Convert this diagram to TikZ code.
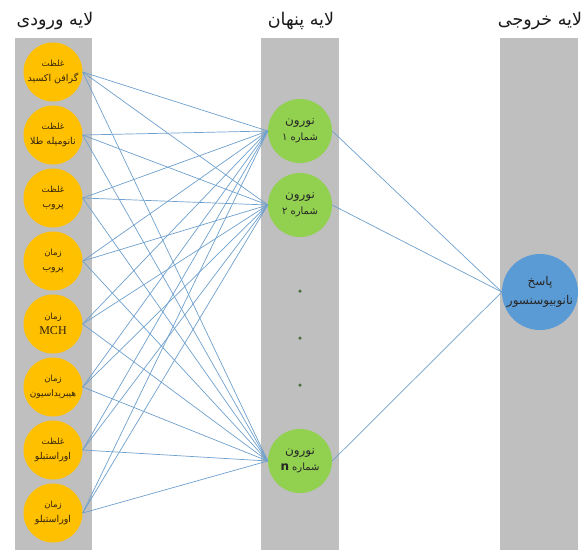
\documentclass[tikz,border=0pt]{standalone}
\usepackage{fontspec}
\setmainfont{Liberation Serif}
\newfontfamily\arabicfont[Script=Arabic]{DejaVu Sans}
\TeXXeTstate=1
\newcommand{\fa}[1]{{\arabicfont\beginR #1\endR}}
\newcommand{\fs}[2]{{\fontsize{#1}{#1}\selectfont #2}}
\definecolor{colgray}{RGB}{191,191,191}
\definecolor{inyellow}{RGB}{255,192,0}
\definecolor{hidgreen}{RGB}{146,208,80}
\definecolor{outblue}{RGB}{91,155,213}
\definecolor{linkblue}{RGB}{110,160,205}
\definecolor{dotcol}{RGB}{75,110,65}
\definecolor{txtdark}{RGB}{50,35,10}
\tikzset{
  column/.style={fill=colgray, draw=none},
  innode/.style={circle, fill=inyellow, draw=none, minimum size=59pt, inner sep=0pt, align=center, text=txtdark, font=\fontsize{9.5}{15}\selectfont},
  hidnode/.style={circle, fill=hidgreen, draw=none, minimum size=64pt, inner sep=0pt, align=center, text=black!85, font=\fontsize{12}{16}\selectfont},
  outnode/.style={circle, fill=outblue, draw=none, minimum size=76pt, inner sep=0pt, align=center, text=black!85, font=\fontsize{12}{19}\selectfont},
  title/.style={font=\fontsize{17.5}{20}\selectfont, text=black!90},
  link/.style={draw=linkblue, line width=0.7pt},
  dotnode/.style={circle, fill=dotcol, draw=none, minimum size=3.5pt, inner sep=0pt}
}
\begin{document}
\begin{tikzpicture}[x=1pt,y=-1pt]
\useasboundingbox (0,0) rectangle (587,550);
% columns
\fill[column] (15,38) rectangle (92,550);
\fill[column] (261,38) rectangle (339,550);
\fill[column] (500,38) rectangle (578,550);
% titles
\node[title] (t1) at (55,21) {\fa{لایه ورودی}};
\node[title] (t2) at (301,21) {\fa{لایه پنهان}};
\node[title] (t3) at (540,21) {\fa{لایه خروجی}};
% input nodes
\node[innode] (i1) at (53,72)  {\fs{8.5}{\fa{غلظت}}\\\fa{گرافن اکسید}};
\node[innode] (i2) at (53,135) {\fs{8.5}{\fa{غلظت}}\\\fa{نانومیله طلا}};
\node[innode] (i3) at (53,198) {\fs{8.5}{\fa{غلظت}}\\\fa{پروب}};
\node[innode] (i4) at (53,261) {\fs{8.5}{\fa{زمان}}\\\fa{پروب}};
\node[innode] (i5) at (53,324) {\fs{8.5}{\fa{زمان}}\\\fs{12}{MCH}};
\node[innode] (i6) at (53,387) {\fs{8.5}{\fa{زمان}}\\\fs{9}{\fa{هیبریداسیون}}};
\node[innode] (i7) at (53,450) {\fs{8.5}{\fa{غلظت}}\\\fa{اوراستبلو}};
\node[innode] (i8) at (53,513) {\fs{8.5}{\fa{زمان}}\\\fa{اوراستبلو}};
% hidden nodes
\node[hidnode] (h1) at (300,131) {\fa{نورون}\\\fs{10}{\fa{شماره ۱}}};
\node[hidnode] (h2) at (300,205) {\fa{نورون}\\\fs{10}{\fa{شماره ۲}}};
\node[hidnode] (h3) at (300,461) {\fa{نورون}\\\fs{10}{{\arabicfont\beginR شماره \beginL{\fontsize{12}{12}\selectfont\bfseries n}\endL\endR}}};
% dots
\node[dotnode] (d1) at (300,291) {};
\node[dotnode] (d2) at (300,338) {};
\node[dotnode] (d3) at (300,385) {};
% output node
\node[outnode] (o1) at (540,292) {\fa{پاسخ}\\\fa{نانوبیوسنسور}};
% links input -> hidden
\foreach \i in {1,...,8}{
  \foreach \h in {1,2,3}{
    \draw[link] (i\i.east) -- (h\h.west);
  }
}
% links hidden -> output
\foreach \h in {1,2,3}{
  \draw[link] (h\h.east) -- (o1.west);
}
\end{tikzpicture}
\end{document}
